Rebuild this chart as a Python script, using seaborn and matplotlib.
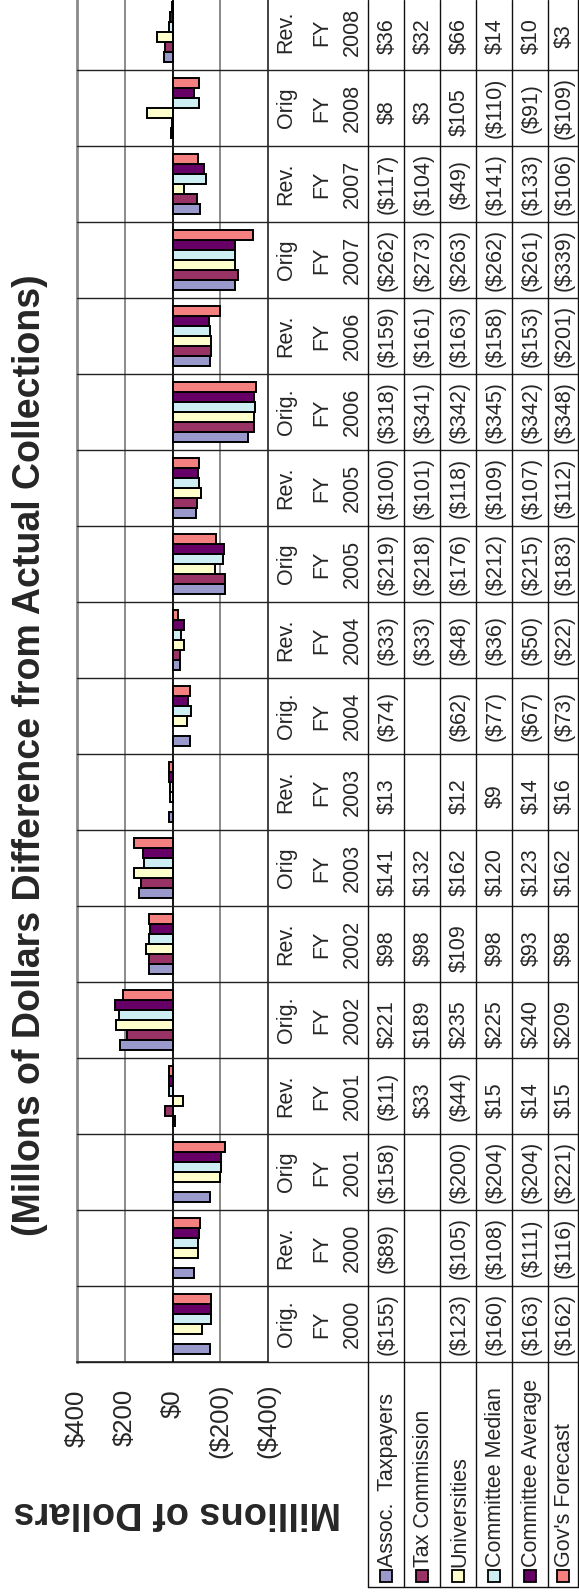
import numpy as np
import pandas as pd
import matplotlib
matplotlib.use("Agg")
import matplotlib.pyplot as plt
import seaborn as sns
from matplotlib.transforms import blended_transform_factory, ScaledTranslation
from matplotlib.patches import Rectangle
from matplotlib.lines import Line2D

# ---------------- data ----------------
kinds = ["Orig.", "Rev.", "Orig", "Rev.", "Orig.", "Rev.", "Orig", "Rev.", "Orig.",
         "Rev.", "Orig", "Rev.", "Orig.", "Rev.", "Orig", "Rev.", "Orig", "Rev."]
years = ["2000", "2000", "2001", "2001", "2002", "2002", "2003", "2003", "2004",
         "2004", "2005", "2005", "2006", "2006", "2007", "2007", "2008", "2008"]
categories = [f"{k} FY {y}" for k, y in zip(kinds, years)]

series = ["Assoc.  Taxpayers", "Tax Commission", "Universities",
          "Committee Median", "Committee Average", "Gov's Forecast"]
nan = np.nan
assoc = [-155, -89, -158, -11, 221, 98, 141, 13, -74, -33, -219, -100, -318, -159, -262, -117, 8, 36]
taxcom = [nan, nan, nan, 33, 189, 98, 132, nan, nan, -33, -218, -101, -341, -161, -273, -104, 3, 32]
univ = [-123, -105, -200, -44, 235, 109, 162, 12, -62, -48, -176, -118, -342, -163, -263, -49, 105, 66]
median = [-160, -108, -204, 15, 225, 98, 120, 9, -77, -36, -212, -109, -345, -158, -262, -141, -110, 14]
average = [-163, -111, -204, 14, 240, 93, 123, 14, -67, -50, -215, -107, -342, -153, -261, -133, -91, 10]
gov = [-162, -116, -221, 15, 209, 98, 162, 16, -73, -22, -183, -112, -348, -201, -339, -106, -109, 3]

colors = ["#9999CC", "#993366", "#FFFFCC", "#CDEEF3", "#660066", "#F4807F"]
tick_values = [400, 200, 0, -200, -400]
tick_labels = ["$400", "$200", "$0", "($200)", "($400)"]
title = "(Millons of Dollars Difference from Actual Collections)"
value_label = "Millions of Dollars"

values = [assoc, taxcom, univ, median, average, gov]
rows = []
for s, vals in zip(series, values):
    for c, v in zip(categories, vals):
        rows.append({"category": c, "series": s, "value": v})
df = pd.DataFrame(rows)


def fmt(v):
    if np.isnan(v):
        return ""
    return f"${v:.0f}" if v >= 0 else f"(${-v:.0f})"


# ---------------- figure ----------------
sns.set_style("white")
plt.rcParams["font.family"] = ["Liberation Sans", "DejaVu Sans"]

W, H = 579, 1595
fig = plt.figure(figsize=(W / 100, H / 100), dpi=100)


def fx(x):
    return x / W


def fy(y):
    return 1 - y / H


ax_left, ax_right, ax_top, ax_bottom = 77, 268, -6, 1362
ax = fig.add_axes([fx(ax_left), fy(ax_bottom), fx(ax_right - ax_left), (ax_bottom - ax_top) / H])

sns.barplot(data=df.dropna(), x="value", y="category", hue="series",
            order=categories, hue_order=series, orient="h",
            palette=colors, saturation=1, edgecolor="black", linewidth=1.4,
            errorbar=None, legend=False, width=0.8, ax=ax)

ax.set_ylim(-0.5, len(categories) - 0.5)
ax.set_xlim(400, -400)
ax.set_xticks(tick_values)
ax.set_xticklabels(tick_labels)
ax.tick_params(axis="x", direction="out", length=5.8, width=1.0, color="#333333",
               pad=9.5, labelsize=18.5, labelrotation=90)
# positive labels carry Excel's trailing ")" padding -> sit a little lower
for lab, tv in zip(ax.get_xticklabels(), tick_values):
    if tv >= 0:
        lab.set_transform(lab.get_transform() + ScaledTranslation(0, -0.06, fig.dpi_scale_trans))
ax.set_yticks([])
ax.set_xlabel("")
ax.set_ylabel("")
ax.grid(False)
for gv in [200, -200]:
    ax.axvline(gv, color="#8a8a8a", lw=1.4, zorder=0)
ax.axvline(0, color="black", lw=1.3, zorder=3)
ax.spines["top"].set_visible(False)
ax.spines["left"].set_color("#8a8a8a")
ax.spines["left"].set_linewidth(2.0)
ax.spines["right"].set_color("#222222")
ax.spines["right"].set_linewidth(1.2)
ax.spines["bottom"].set_color("#222222")
ax.spines["bottom"].set_linewidth(1.2)

trans = blended_transform_factory(fig.transFigure, ax.transData)

# category boundary lines across plot and table
for k in range(len(categories) + 1):
    fig.add_artist(Line2D([fx(ax_left), fx(578)], [k - 0.5, k - 0.5],
                          transform=trans, color="#222222", lw=1.0, clip_on=False))

row_edges = [368, 404, 440, 476, 512, 548, 578]
table_bottom = 1587
for x in row_edges:
    fig.add_artist(Line2D([fx(x), fx(x)], [fy(0), fy(table_bottom)],
                          transform=fig.transFigure, color="#111111", lw=1.0))
fig.add_artist(Line2D([fx(row_edges[0]), fx(row_edges[-1])], [fy(table_bottom)] * 2,
                      transform=fig.transFigure, color="#111111", lw=1.0))

# header cells
fs_table = 15.5
header_x = [286, 322, 352]
for i, (k, y) in enumerate(zip(kinds, years)):
    for txt, hx in zip([k, "FY", y], header_x):
        fig.text(fx(hx), i, txt, transform=trans, rotation=90,
                 ha="center", va="center", fontsize=fs_table)

# values
row_centers = [(a + b) / 2 for a, b in zip(row_edges[:-1], row_edges[1:])]
for r, vals in enumerate(values):
    for i, v in enumerate(vals):
        t = fmt(v)
        if t:
            yoff = -0.05 if v >= 0 else 0.0
            fig.text(fx(row_centers[r] + 1.5), i + yoff, t, transform=trans, rotation=90,
                     ha="center", va="center", fontsize=fs_table)

# legend keys in the table
for r, (s, c) in enumerate(zip(series, colors)):
    cx = row_centers[r]
    fig.add_artist(Rectangle((fx(cx - 6), fy(1582)), fx(12), 12 / H,
                             transform=fig.transFigure, facecolor=c,
                             edgecolor="black", lw=1.3))
    fig.text(fx(cx + 1.5), fy(1567), s, rotation=90, ha="center", va="bottom",
             fontsize=fs_table)

# titles
fig.text(fx(30), fy(755.5), title, rotation=90, ha="center", va="center",
         fontsize=27.0, fontweight="bold")
fig.text(fx(177), fy(1512), value_label, rotation=180, ha="center", va="center",
         fontsize=27.4, fontweight="bold")

fig.savefig("out.png", dpi=100)
